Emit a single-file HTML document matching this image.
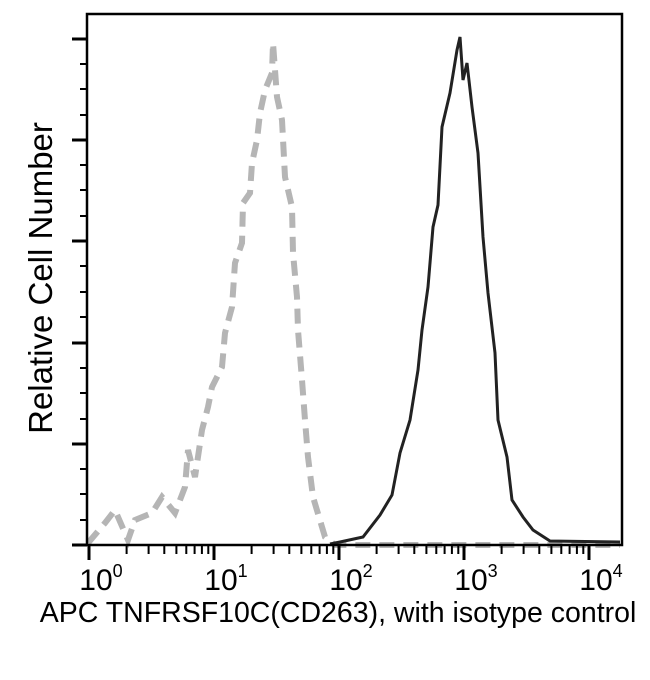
<!DOCTYPE html>
<html><head><style>body{margin:0;background:#fff}svg{display:block}</style></head><body>
<svg width="650" height="680" xmlns="http://www.w3.org/2000/svg" font-family="Liberation Sans, sans-serif">
<rect width="650" height="680" fill="#fff"/>
<polyline fill="none" stroke="#b5b5b5" stroke-width="6" stroke-dasharray="15,9" points="88,543 105,523 115,510 128,540 135,520 152,513 162,497 175,513 185,487 188,450 195,477 202,430 208,407 212,387 222,367 225,333 232,307 235,263 242,243 243,203 250,193 252,163 257,140 260,113 265,90 272,73 273,43 277,97 282,120 285,177 292,207 293,253 297,297 298,330 302,380 305,420 308,457 313,497 325,537 335,545 620,545"/>
<polyline fill="none" stroke="#222" stroke-width="3" points="330,544 340,542 363,537 380,515 392,495 400,453 410,420 418,370 422,330 428,287 433,227 438,205 442,127 450,93 457,50 460,37 463,80 467,63 472,107 478,153 483,237 488,293 495,353 498,420 507,457 512,500 523,517 533,530 550,541 620,542"/>
<g stroke="#000" fill="none">
<rect x="87" y="14" width="535" height="531" stroke-width="2.5"/>
<g stroke-width="3">
<line x1="72" y1="39" x2="87" y2="39"/><line x1="72" y1="140" x2="87" y2="140"/><line x1="72" y1="241" x2="87" y2="241"/><line x1="72" y1="343" x2="87" y2="343"/><line x1="72" y1="444" x2="87" y2="444"/><line x1="72" y1="545" x2="87" y2="545"/>
<line x1="89" y1="545" x2="89" y2="560"/><line x1="214" y1="545" x2="214" y2="560"/><line x1="339" y1="545" x2="339" y2="560"/><line x1="464" y1="545" x2="464" y2="560"/><line x1="589" y1="545" x2="589" y2="560"/>
</g>
<g stroke-width="2">
<line x1="80" y1="64" x2="87" y2="64"/><line x1="80" y1="89" x2="87" y2="89"/><line x1="80" y1="115" x2="87" y2="115"/>
<line x1="80" y1="165" x2="87" y2="165"/><line x1="80" y1="190" x2="87" y2="190"/><line x1="80" y1="216" x2="87" y2="216"/>
<line x1="80" y1="266" x2="87" y2="266"/><line x1="80" y1="292" x2="87" y2="292"/><line x1="80" y1="317" x2="87" y2="317"/>
<line x1="80" y1="368" x2="87" y2="368"/><line x1="80" y1="393" x2="87" y2="393"/><line x1="80" y1="419" x2="87" y2="419"/>
<line x1="80" y1="469" x2="87" y2="469"/><line x1="80" y1="494" x2="87" y2="494"/><line x1="80" y1="520" x2="87" y2="520"/>
<path d="M126.6,545v9M148.6,545v9M164.3,545v9M176.4,545v9M186.3,545v9M194.6,545v9M201.9,545v9M208.3,545v9
M251.6,545v9M273.6,545v9M289.3,545v9M301.4,545v9M311.3,545v9M319.6,545v9M326.9,545v9M333.3,545v9
M376.6,545v9M398.6,545v9M414.3,545v9M426.4,545v9M436.3,545v9M444.6,545v9M451.9,545v9M458.3,545v9
M501.6,545v9M523.6,545v9M539.3,545v9M551.4,545v9M561.3,545v9M569.6,545v9M576.9,545v9M583.3,545v9"/>
</g>
</g>
<g font-size="30" fill="#000" text-anchor="middle">
<text x="101" y="590">10<tspan font-size="18" dy="-13">0</tspan></text>
<text x="226" y="590">10<tspan font-size="18" dy="-13">1</tspan></text>
<text x="351" y="590">10<tspan font-size="18" dy="-13">2</tspan></text>
<text x="476" y="590">10<tspan font-size="18" dy="-13">3</tspan></text>
<text x="601" y="590">10<tspan font-size="18" dy="-13">4</tspan></text>
</g>
<text x="338" y="622" font-size="28.5" text-anchor="middle">APC TNFRSF10C(CD263), with isotype control</text>
<text transform="translate(52,278) rotate(-90)" font-size="33" text-anchor="middle">Relative Cell Number</text>
</svg>
</body></html>
